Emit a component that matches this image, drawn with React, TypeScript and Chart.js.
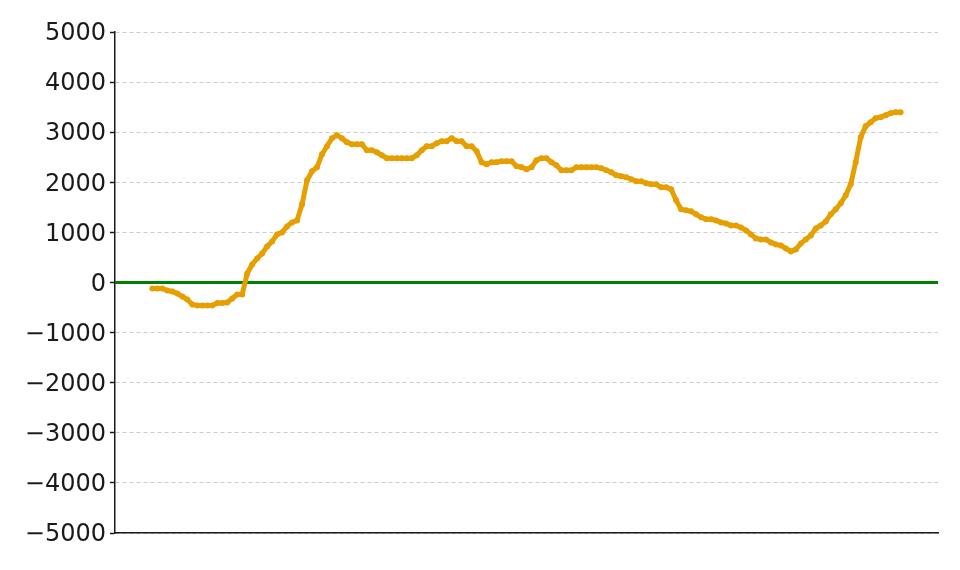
import React, { useEffect, useRef } from "react";
import { Chart, registerables } from "chart.js";

Chart.register(...registerables);

const values: number[] = [
  -120, -120, -120, -160, -180, -220, -280, -340, -440, -460,
  -460, -460, -460, -410, -410, -400, -320, -240, -240, 180,
  360, 480, 580, 720, 820, 960, 1000, 1120, 1200, 1240,
  1560, 2040, 2220, 2300, 2560, 2720, 2880, 2940, 2880, 2800,
  2760, 2760, 2760, 2640, 2640, 2600, 2540, 2480, 2480, 2480,
  2480, 2480, 2480, 2540, 2640, 2720, 2720, 2780, 2820, 2820,
  2880, 2820, 2820, 2720, 2720, 2620, 2400, 2360, 2400, 2400,
  2420, 2420, 2420, 2320, 2300, 2260, 2300, 2440, 2480, 2480,
  2400, 2340, 2240, 2240, 2240, 2300, 2300, 2300, 2300, 2300,
  2280, 2240, 2200, 2140, 2120, 2100, 2060, 2020, 2020, 1980,
  1960, 1960, 1900, 1900, 1860, 1640, 1460, 1440, 1420, 1360,
  1300, 1260, 1260, 1240, 1200, 1180, 1140, 1140, 1100, 1040,
  960, 880, 860, 860, 800, 760, 740, 680, 620, 660,
  780, 860, 940, 1080, 1140, 1220, 1360, 1460, 1580, 1740,
  1960, 2400, 2900, 3120, 3200, 3280, 3300, 3340, 3380, 3400,
  3400,
];

const yTicks: number[] = [-5000, -4000, -3000, -2000, -1000, 0, 1000, 2000, 3000, 4000, 5000];
const baseline: number[] = [0, 0];

const fmt = (v: number) => (v < 0 ? "\u2212" + Math.abs(v) : String(v));

export default function App() {
  const ref = useRef<HTMLCanvasElement>(null);
  useEffect(() => {
    if (!ref.current) return;
    const n = values.length - 1;
    const xMin = -0.05 * n;
    const xMax = 1.05 * n;
    const chart = new Chart(ref.current, {
      type: "line",
      data: {
        datasets: [
          {
            data: values.map((v, i) => ({ x: i, y: v })),
            borderColor: "#E69F00",
            backgroundColor: "#E69F00",
            borderWidth: 5,
            pointRadius: 3,
            pointBorderWidth: 0,
            pointBackgroundColor: "#E69F00",
            tension: 0,
            order: 1,
          },
          {
            data: [
              { x: xMin, y: baseline[0] },
              { x: xMax, y: baseline[1] },
            ],
            borderColor: "#008000",
            borderWidth: 3,
            pointRadius: 0,
            order: 2,
          },
        ],
      },
      options: {
        responsive: false,
        animation: false,
        layout: { padding: { left: 0, right: 22, top: 32, bottom: 37 } },
        plugins: { legend: { display: false }, tooltip: { enabled: false } },
        scales: {
          x: {
            type: "linear",
            min: xMin,
            max: xMax,
            ticks: { display: false },
            grid: { display: false, drawTicks: false },
            border: { display: true, color: "#1a1a1a", width: 1.5 },
            afterFit: (s: any) => {
              s.height = 0;
            },
          },
          y: {
            min: -5000,
            max: 5000,
            afterBuildTicks: (s: any) => {
              s.ticks = yTicks.map((v) => ({ value: v }));
            },
            ticks: {
              callback: (v: any) => fmt(Number(v)),
              font: { family: "DejaVu Sans", size: 24 },
              color: "#1a1a1a",
              padding: 4,
              labelOffset: 2,
            },
            grid: {
              color: "#cccccc",
              lineWidth: 1,
              tickLength: 5,
              tickColor: "#1a1a1a",
              tickWidth: 1.5,
              tickBorderDash: [],
            },
            border: { display: true, color: "#1a1a1a", width: 1.5, dash: [4, 3] },
            afterFit: (s: any) => {
              s.width = 115;
            },
          },
        },
      },
    });
    return () => chart.destroy();
  }, []);
  return (
    <div style={{ position: "fixed", left: 0, top: 0, width: 960, height: 570, background: "#fff" }}>
      <canvas ref={ref} width={960} height={570} />
    </div>
  );
}
